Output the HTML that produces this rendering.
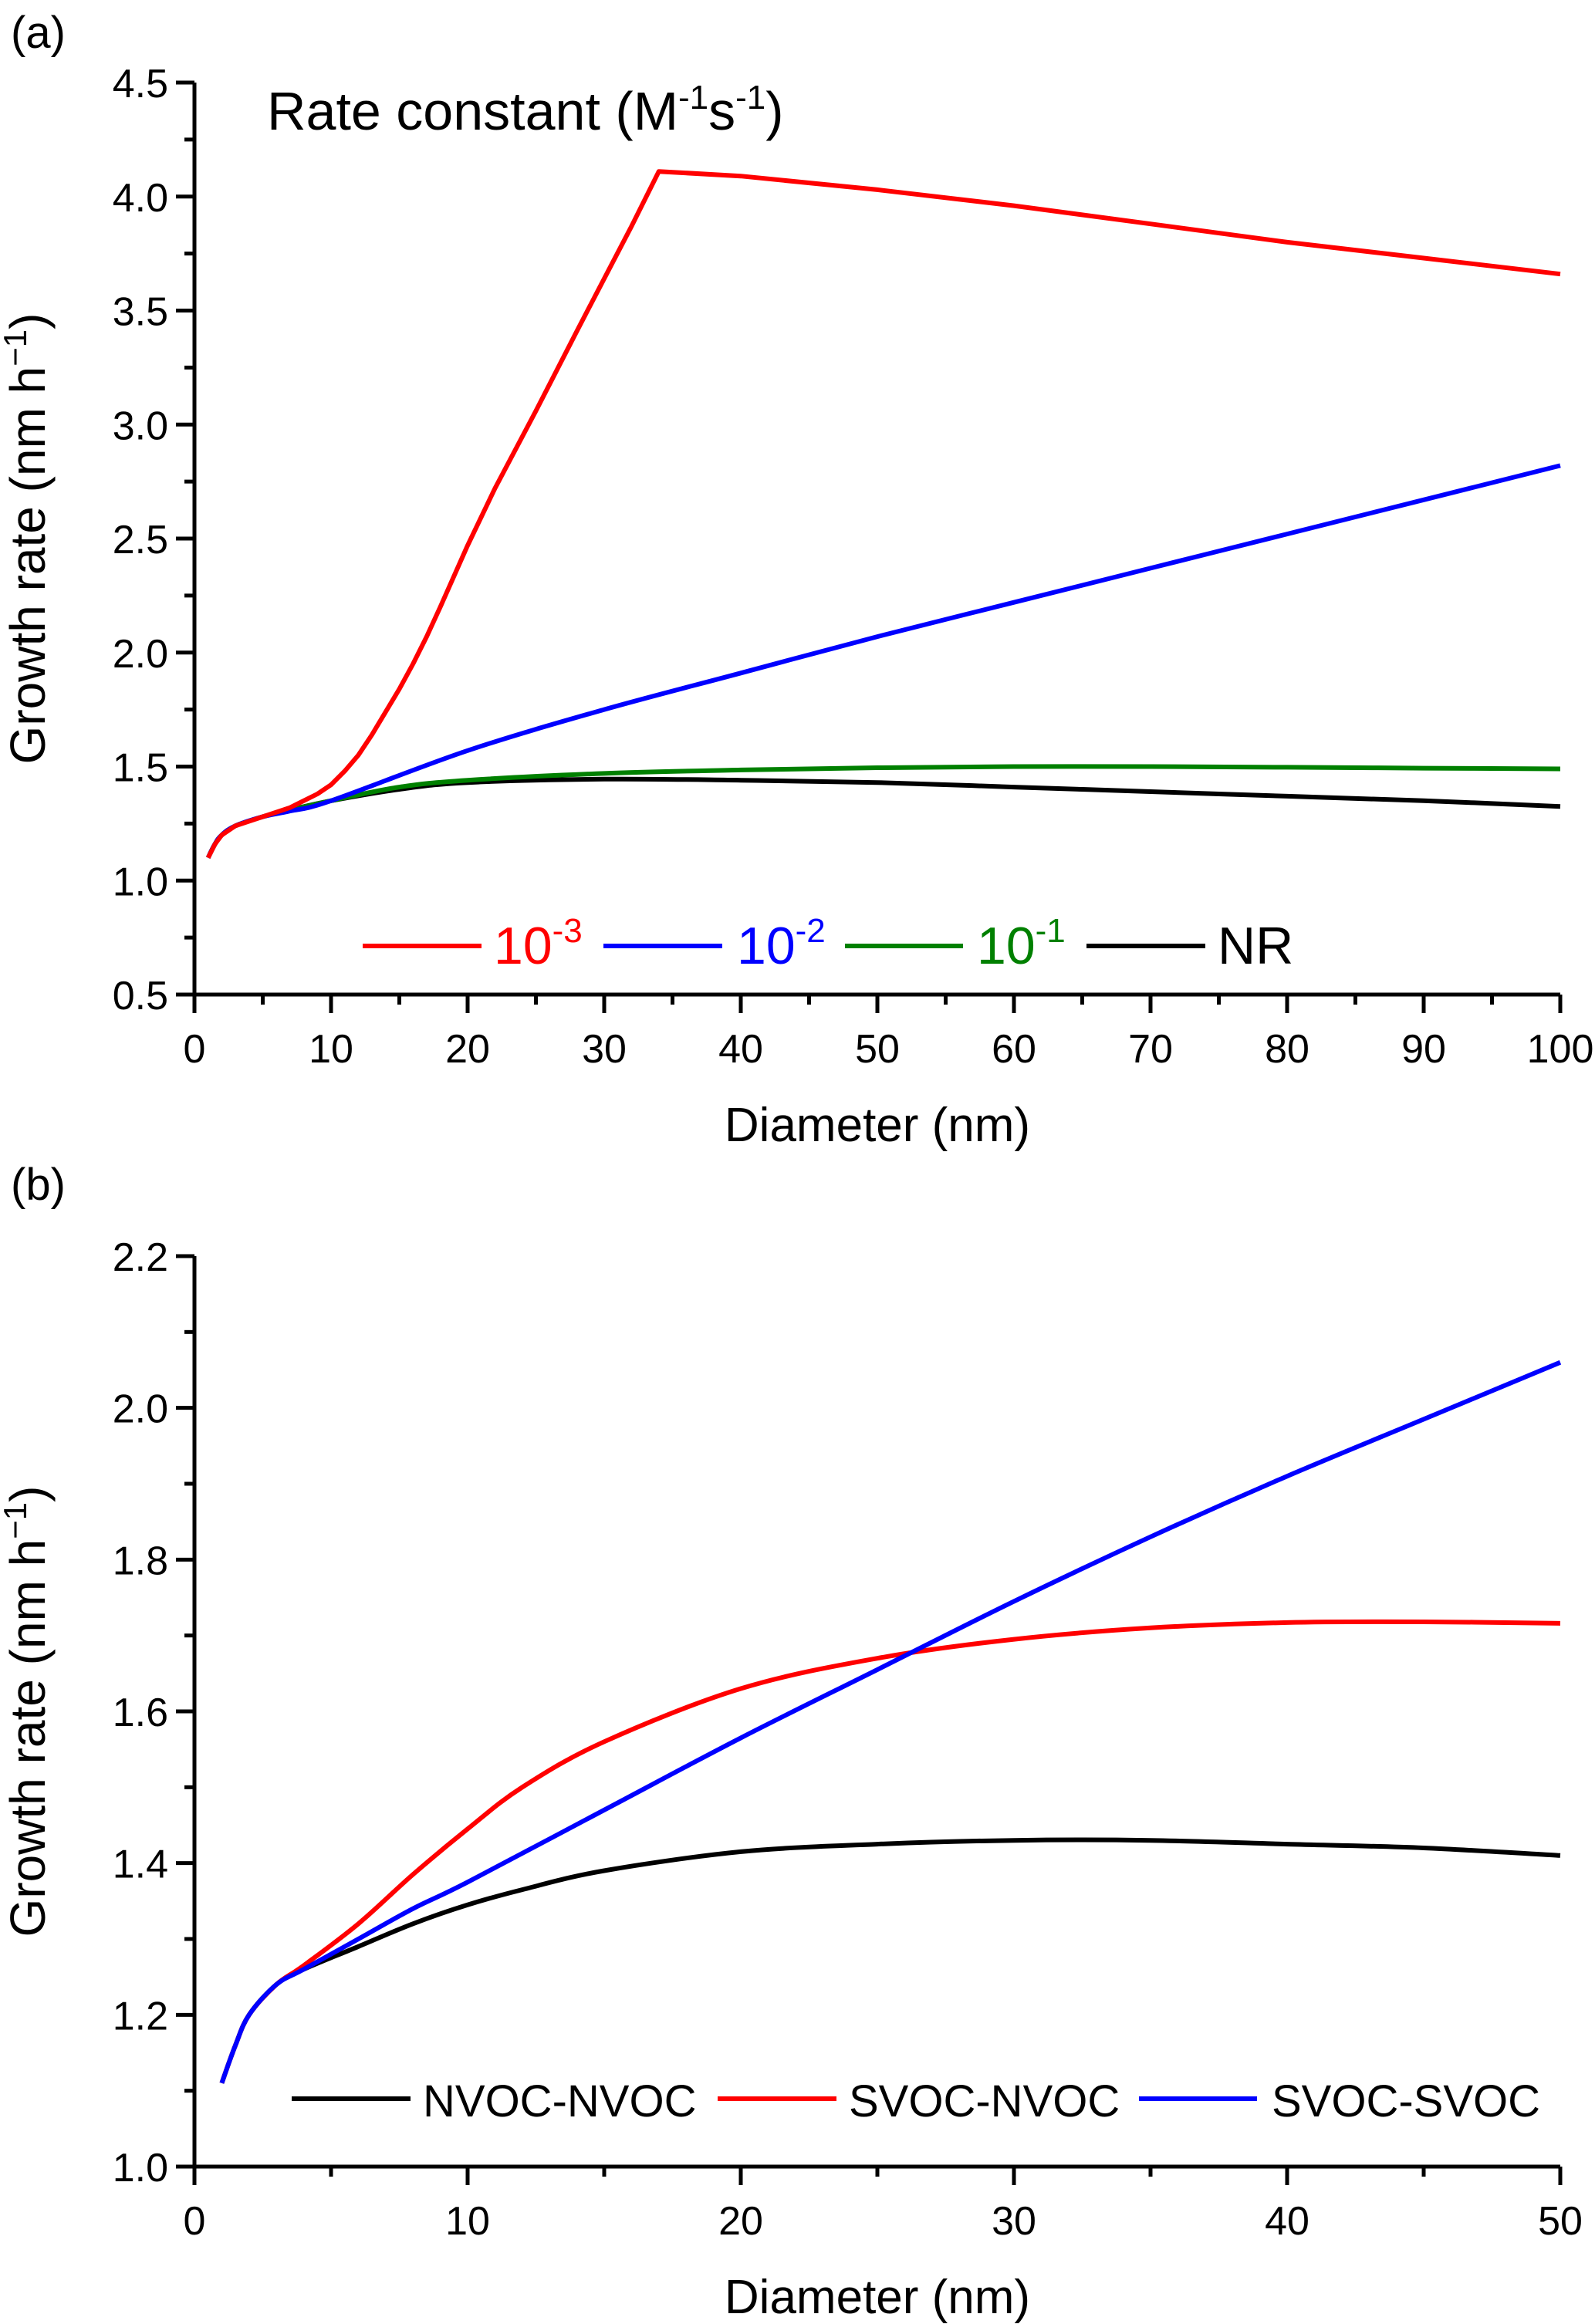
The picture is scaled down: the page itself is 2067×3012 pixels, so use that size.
<!DOCTYPE html>
<html><head><meta charset="utf-8"><style>
html,body{margin:0;padding:0;background:#fff}
svg{display:block;font-family:"Liberation Sans",Arial,sans-serif}
</style></head><body>
<svg id="fig" width="2067" height="3012" viewBox="0 0 2067 3012">
<text x="14" y="62" font-size="58">(a)</text>
<text x="14" y="1555" font-size="58">(b)</text>
<text x="346" y="168" font-size="70">Rate constant (M<tspan font-size="44" dy="-27">-1</tspan><tspan dy="27">s</tspan><tspan font-size="44" dy="-27">-1</tspan><tspan dy="27">)</tspan></text>
<g id="pa"></g>
<g id="pb"></g>
</svg>
<script>
const NS="http://www.w3.org/2000/svg";
// Panel A data
const aXTicks=[0,10,20,30,40,50,60,70,80,90,100];
const aYTicks=[0.5,1.0,1.5,2.0,2.5,3.0,3.5,4.0,4.5];
const aX_red=[1,1.5,2,3,4,5,6,7,8,9,10,11,12,13,14,15,16,17,18,20,22,25,28,30,32,34,40,50,60,70,80,90,100];
const aY_red=[1.1,1.16,1.2,1.24,1.26,1.28,1.3,1.32,1.35,1.38,1.42,1.48,1.55,1.64,1.74,1.84,1.95,2.07,2.2,2.47,2.72,3.06,3.41,3.64,3.87,4.11,4.09,4.03,3.96,3.88,3.8,3.73,3.66];
const aX_blue=[1,1.5,2,3,5,7,10,20,30,40,50,60,70,80,90,100];
const aY_blue=[1.1,1.16,1.2,1.24,1.28,1.305,1.35,1.57,1.75,1.91,2.07,2.22,2.37,2.52,2.67,2.82];
const aX_green=[1,1.5,2,3,5,7,10,15,20,30,40,50,60,70,80,90,100];
const aY_green=[1.1,1.16,1.2,1.24,1.28,1.31,1.35,1.41,1.44,1.47,1.485,1.495,1.5,1.5,1.497,1.493,1.49];
const aX_black=[1,1.5,2,3,5,7,10,15,20,30,40,50,60,70,80,90,100];
const aY_black=[1.1,1.16,1.2,1.24,1.28,1.31,1.35,1.4,1.43,1.445,1.44,1.43,1.41,1.39,1.37,1.35,1.325];
// Panel B data
const bXTicks=[0,10,20,30,40,50];
const bYTicks=[1.0,1.2,1.4,1.6,1.8,2.0,2.2];
const bX_black=[1,1.5,2,3,4,6,8,10,12,15,20,25,30,35,40,45,50];
const bY_black=[1.11,1.16,1.2,1.24,1.26,1.29,1.32,1.345,1.365,1.39,1.415,1.425,1.43,1.43,1.425,1.42,1.41];
const bX_red=[1,1.5,2,3,4,6,8,10,12,15,20,25,30,35,40,45,50];
const bY_red=[1.11,1.16,1.2,1.24,1.265,1.32,1.385,1.445,1.5,1.56,1.63,1.67,1.695,1.71,1.717,1.718,1.716];
const bX_blue=[1,1.5,2,3,4,6,8,10,15,20,25,30,35,40,45,50];
const bY_blue=[1.11,1.16,1.2,1.24,1.26,1.3,1.34,1.375,1.47,1.565,1.655,1.745,1.83,1.91,1.985,2.06];

function el(p,tag,attrs){const e=document.createElementNS(NS,tag);for(const k in attrs)e.setAttribute(k,attrs[k]);p.appendChild(e);return e;}

function smoothPath(pts){
  let d='M'+pts[0][0].toFixed(1)+','+pts[0][1].toFixed(1);
  for(let i=0;i<pts.length-1;i++){
    const p0=pts[Math.max(0,i-1)],p1=pts[i],p2=pts[i+1],p3=pts[Math.min(pts.length-1,i+2)];
    const c1x=p1[0]+(p2[0]-p0[0])/6,c1y=p1[1]+(p2[1]-p0[1])/6;
    const c2x=p2[0]-(p3[0]-p1[0])/6,c2y=p2[1]-(p3[1]-p1[1])/6;
    d+=`C${c1x.toFixed(1)},${c1y.toFixed(1)} ${c2x.toFixed(1)},${c2y.toFixed(1)} ${p2[0].toFixed(1)},${p2[1].toFixed(1)}`;
  }
  return d;
}

function panel(g,cfg){
  const L=252,R=2022,T=cfg.top,B=cfg.bot;
  const sx=v=>L+(v-cfg.x0)/(cfg.x1-cfg.x0)*(R-L);
  const sy=v=>B-(v-cfg.y0)/(cfg.y1-cfg.y0)*(B-T);
  const ax=el(g,'path',{d:`M${L},${T} L${L},${B} L${R},${B}`,stroke:'#000','stroke-width':5,fill:'none'});
  
  
  for(let i=0;i<cfg.xt.length;i++){
    const v=cfg.xt[i];
    const t=el(g,'line',{x1:sx(v),x2:sx(v),y1:B,y2:B+24,stroke:'#000','stroke-width':5});
    
    
    const lb=el(g,'text',{x:sx(v),y:B+88,'font-size':52,'text-anchor':'middle'});
    lb.textContent=v;
    
    
    if(i<cfg.xt.length-1){
      const m=(v+cfg.xt[i+1])/2;
      const mt=el(g,'line',{x1:sx(m),x2:sx(m),y1:B,y2:B+13,stroke:'#000','stroke-width':5});
      
      
    }
  }
  for(let i=0;i<cfg.yt.length;i++){
    const v=cfg.yt[i];
    const t=el(g,'line',{x1:L-24,x2:L,y1:sy(v),y2:sy(v),stroke:'#000','stroke-width':5});
    
    
    const lb=el(g,'text',{x:L-34,y:sy(v)+19,'font-size':52,'text-anchor':'end'});
    lb.textContent=v.toFixed(1);
    
    
    if(i<cfg.yt.length-1){
      const m=(v+cfg.yt[i+1])/2;
      const mt=el(g,'line',{x1:L-13,x2:L,y1:sy(m),y2:sy(m),stroke:'#000','stroke-width':5});
      
      
    }
  }
  const xt=el(g,'text',{x:1137,y:B+190,'font-size':62,'text-anchor':'middle'});
  xt.textContent='Diameter (nm)';
  
  
  const cy=(T+B)/2;
  const yt=el(g,'text',{x:0,y:0,'font-size':64,'text-anchor':'middle',transform:`translate(58,${cy}) rotate(-90)`});
  yt.innerHTML='Growth rate (nm h<tspan font-size="42" dy="-24">−1</tspan><tspan dy="24">)</tspan>';
  
  
  cfg.series.forEach(s=>{
    const pts=s.x.map((x,i)=>[sx(x),sy(s.y[i])]);
    let d;
    if(s.lin){d='';pts.forEach((p,i)=>{d+=(i?'L':'M')+p[0].toFixed(1)+','+p[1].toFixed(1);});}
    else d=smoothPath(pts);
    const p=el(g,'path',{d:d,stroke:s.c,'stroke-width':6,fill:'none','stroke-linejoin':'round'});
    
    
  });
  cfg.legend.forEach(l=>{
    const ln=el(g,'line',{x1:l.x1,x2:l.x2,y1:l.y,y2:l.y,stroke:l.c,'stroke-width':6});
    
    
    const tx=el(g,'text',{x:l.tx,y:l.y+23,'font-size':cfg.lfs,fill:l.tc});
    tx.innerHTML=l.t;
    
    
  });
}
panel(document.getElementById('pa'),{top:107,bot:1289,x0:0,x1:100,y0:0.5,y1:4.5,xt:aXTicks,yt:aYTicks,lfs:68,
 series:[{x:aX_black,y:aY_black,c:'#000',n:'line-nr'},{x:aX_green,y:aY_green,c:'#008000',n:'line-1e-1'},{x:aX_blue,y:aY_blue,c:'#0000ff',n:'line-1e-2'},{x:aX_red,y:aY_red,c:'#ff0000',n:'line-1e-3',lin:true}],
 legend:[{x1:470,x2:624,y:1226,c:'#ff0000',tc:'#ff0000',tx:640,t:'10<tspan font-size="44" dy="-28">-3</tspan>'},
 {x1:782,x2:936,y:1226,c:'#0000ff',tc:'#0000ff',tx:955,t:'10<tspan font-size="44" dy="-28">-2</tspan>'},
 {x1:1095,x2:1248,y:1226,c:'#008000',tc:'#008000',tx:1266,t:'10<tspan font-size="44" dy="-28">-1</tspan>'},
 {x1:1408,x2:1562,y:1226,c:'#000',tc:'#000',tx:1578,t:'NR'}]});
panel(document.getElementById('pb'),{top:1628,bot:2808,x0:0,x1:50,y0:1.0,y1:2.2,xt:bXTicks,yt:bYTicks,lfs:58,
 series:[{x:bX_black,y:bY_black,c:'#000',n:'line-nvoc-nvoc'},{x:bX_red,y:bY_red,c:'#ff0000',n:'line-svoc-nvoc'},{x:bX_blue,y:bY_blue,c:'#0000ff',n:'line-svoc-svoc'}],
 legend:[{x1:378,x2:532,y:2720,c:'#000',tc:'#000',tx:548,t:'NVOC-NVOC'},
 {x1:930,x2:1084,y:2720,c:'#ff0000',tc:'#000',tx:1100,t:'SVOC-NVOC'},
 {x1:1476,x2:1629,y:2720,c:'#0000ff',tc:'#000',tx:1648,t:'SVOC-SVOC'}]});
</script>
</body></html>
